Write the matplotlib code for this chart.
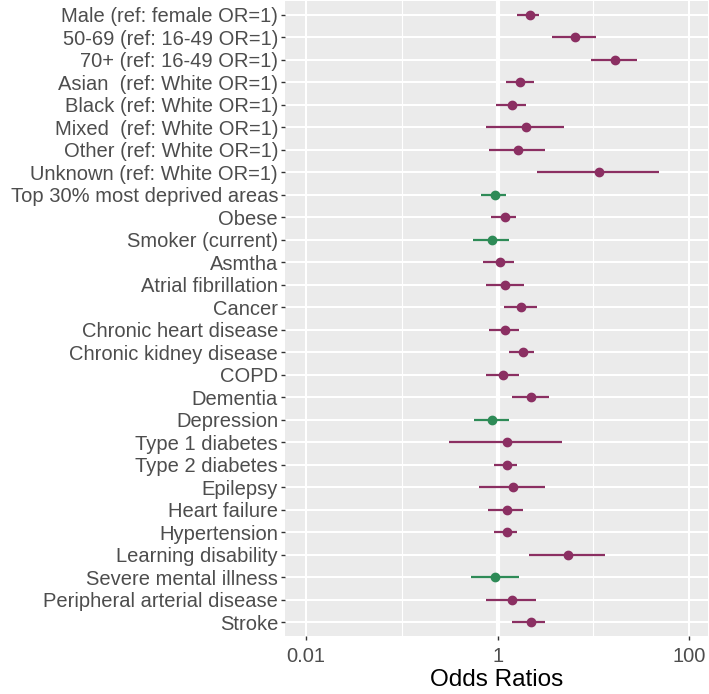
import numpy as np
import matplotlib
matplotlib.use("Agg")
import matplotlib.pyplot as plt

# Odds ratios (top to bottom)
labels = [
    "Male (ref: female OR=1)", "50-69 (ref: 16-49 OR=1)", "70+ (ref: 16-49 OR=1)",
    "Asian  (ref: White OR=1)", "Black (ref: White OR=1)", "Mixed  (ref: White OR=1)",
    "Other (ref: White OR=1)", "Unknown (ref: White OR=1)", "Top 30% most deprived areas",
    "Obese", "Smoker (current)", "Asmtha", "Atrial fibrillation", "Cancer",
    "Chronic heart disease", "Chronic kidney disease", "COPD", "Dementia",
    "Depression", "Type 1 diabetes", "Type 2 diabetes", "Epilepsy", "Heart failure",
    "Hypertension", "Learning disability", "Severe mental illness",
    "Peripheral arterial disease", "Stroke",
]
odds = [2.18, 6.4, 16.7, 1.71, 1.40, 2.0, 1.64, 11.5, 0.93, 1.19, 0.87, 1.06, 1.19, 1.77,
        1.19, 1.84, 1.14, 2.25, 0.87, 1.24, 1.24, 1.45, 1.24, 1.24, 5.4, 0.94, 1.40, 2.21]
lower = [1.61, 3.74, 9.4, 1.22, 0.96, 0.76, 0.82, 2.6, 0.67, 0.85, 0.55, 0.70, 0.76, 1.17,
         0.82, 1.32, 0.76, 1.43, 0.57, 0.31, 0.92, 0.64, 0.79, 0.92, 2.12, 0.53, 0.76, 1.43]
upper = [2.70, 10.6, 28.7, 2.41, 1.97, 4.9, 3.16, 49.0, 1.22, 1.55, 1.32, 1.49, 1.89, 2.6,
         1.68, 2.41, 1.68, 3.42, 1.32, 4.7, 1.58, 3.16, 1.82, 1.58, 13.2, 1.68, 2.49, 3.16]

purple = "#8b2f62"
green = "#2e8b57"

plt.rcParams["font.family"] = ["Liberation Sans", "DejaVu Sans"]

fig = plt.figure(figsize=(7.09, 6.94), dpi=100)
ax = fig.add_axes([0.402, 0.0836, 0.597, 0.9144])
ax.set_facecolor("#ebebeb")

n = len(labels)
y = np.arange(n)[::-1]

ax.set_xscale("log")
ax.set_xlim(10 ** -2.22, 10 ** 2.2)
ax.set_ylim(-0.6, n - 0.4)

# grid
for v in [0.1, 10]:
    ax.axvline(v, color="white", lw=0.8, zorder=1)
for v in [0.01, 100]:
    ax.axvline(v, color="white", lw=1.5, zorder=1)
for yy in y:
    ax.axhline(yy, color="white", lw=1.5, zorder=1)
ax.axvline(1, color="white", lw=3, zorder=2)

for yy, o, lo, hi in zip(y, odds, lower, upper):
    c = green if o < 1 else purple
    ax.plot([lo, hi], [yy, yy], color=c, lw=1.6, zorder=3, solid_capstyle="butt")
    ax.plot(o, yy, "o", color=c, ms=6, zorder=4)

ax.set_yticks(y)
ax.set_yticklabels(labels, fontsize=14.5, color="#4d4d4d")
ax.set_xticks([0.01, 1, 100])
ax.set_xticklabels(["0.01", "1", "100"], fontsize=14.5, color="#4d4d4d")
ax.xaxis.set_minor_locator(matplotlib.ticker.NullLocator())
ax.tick_params(axis="both", length=3, width=1, color="#333333", pad=2)
ax.tick_params(axis="x", pad=5)
ax.set_xlabel("Odds Ratios", fontsize=17.5, color="black", labelpad=2)

for s in ax.spines.values():
    s.set_visible(False)

plt.savefig("out.png", dpi=100)
